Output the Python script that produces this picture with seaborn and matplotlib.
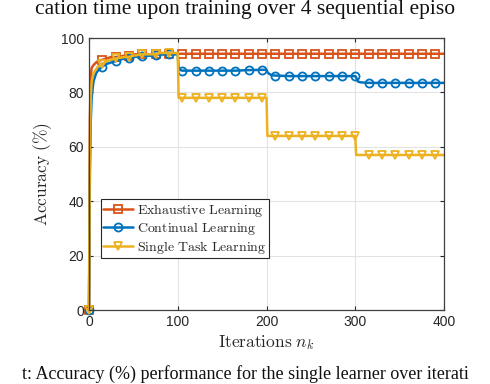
import numpy as np
import pandas as pd
import matplotlib
matplotlib.use('Agg')
import matplotlib.pyplot as plt
import seaborn as sns

# data (iterations and accuracy in %)
iters = [0, 1, 2, 3, 5, 8, 10, 15, 20, 25, 30, 40, 45, 50, 60, 70, 75, 80, 90, 100,
         101, 105, 120, 135, 150, 165, 180, 195, 200, 201, 203, 206, 210, 225, 240,
         255, 270, 285, 300, 301, 303, 306, 315, 330, 345, 360, 375, 390, 400]

exhaustive = [0, 70, 86, 89, 90, 91, 91.5, 92, 92.5, 93, 93, 93.5, 93.5, 94, 94, 94, 94, 94, 94, 94.2,
              94.2, 94.2, 94.2, 94.2, 94.2, 94.2, 94.2, 94.2, 94.2, 94.2, 94.2, 94.2, 94.2, 94.2, 94.2,
              94.2, 94.2, 94.2, 94.2, 94.2, 94.2, 94.2, 94.2, 94.2, 94.2, 94.2, 94.2, 94.2, 94.2]

continual = [0, 50, 70, 78, 84, 87, 88, 89.5, 90.5, 91, 91.5, 92.5, 92.5, 93, 93.5, 93.5, 93.8, 94, 94, 94,
             88.5, 88, 88, 88, 88, 88, 88.2, 88.3, 88.3, 87.5, 86.8, 86.3, 86.2, 86, 86,
             86, 86, 86, 86, 85.5, 84, 83.7, 83.5, 83.5, 83.5, 83.5, 83.5, 83.5, 83.5]

single_task = [0, 60, 78, 84, 87, 88.5, 89.5, 90.5, 91.5, 92, 92.5, 93, 93, 93.5, 94, 94, 94, 94.5, 94.5, 94.5,
               78, 78, 78, 78, 78, 78, 78, 78, 78, 64, 64, 64, 64, 64, 64,
               64, 64, 64, 64, 57, 57, 57, 57, 57, 57, 57, 57, 57, 57]

labels = ['Exhaustive Learning', 'Continual Learning', 'Single Task Learning']
colors = ['#D95319', '#0072BD', '#EDB120']
markers = ['s', 'o', 'v']

sns.set_style('white')
plt.rcParams['mathtext.fontset'] = 'cm'
plt.rcParams['font.family'] = ['Liberation Sans', 'DejaVu Sans']

fig = plt.figure(figsize=(4.9, 3.84), dpi=100)
ax = fig.add_axes([89/490, 1-310/384, 355/490, 272/384])

# marker every 15 iterations
mark_idx = [i for i, x in enumerate(iters) if x % 15 == 0]

for series, lab, col, mk in zip([exhaustive, continual, single_task], labels, colors, markers):
    sns.lineplot(x=iters, y=series, ax=ax, color=col, linewidth=1.8,
                 marker=mk, markevery=mark_idx, markersize=5.8,
                 markerfacecolor='none', markeredgecolor=col, markeredgewidth=1.3,
                 label=r'$\mathrm{' + lab.replace(' ', r'\ ') + '}$', clip_on=False,
                 sort=False, estimator=None)

ax.set_xlim(0, 400)
ax.set_ylim(0, 100)
ax.set_xticks([0, 100, 200, 300, 400])
ax.set_yticks([0, 20, 40, 60, 80, 100])
ax.tick_params(direction='in', length=3, labelsize=10, colors='#262626',
               top=True, right=True, bottom=True, left=True)
ax.grid(True, color='#e3e3e3', linewidth=0.8)
for s in ax.spines.values():
    s.set_color('#404040')
    s.set_linewidth(0.9)

ax.set_xlabel(r'$\mathrm{Iterations}\ n_k$', fontsize=12.5, color='#262626', labelpad=3)
ax.set_ylabel(r'$\mathrm{Accuracy\ (\%)}$', fontsize=12.5, color='#262626', labelpad=5)

leg = ax.legend(loc='lower left', bbox_to_anchor=(0.033, 0.19), fontsize=10,
                frameon=True, fancybox=False, edgecolor='#262626', framealpha=1,
                borderpad=0.2, handlelength=2.1, labelspacing=0.1, handletextpad=0.3,
                borderaxespad=0)
leg.get_frame().set_linewidth(0.8)

# pieces of the paper caption around the figure
fig.text(0.5, 0.999, 'cation time upon training over 4 sequential episo', ha='center', va='top',
         fontsize=15.5, family='Liberation Serif', color='#111111')
fig.text(0.5, 0.002, 't: Accuracy (%) performance for the single learner over iterati', ha='center',
         va='bottom', fontsize=13, family='Liberation Serif', color='#111111')

fig.savefig('out.png', dpi=100)
